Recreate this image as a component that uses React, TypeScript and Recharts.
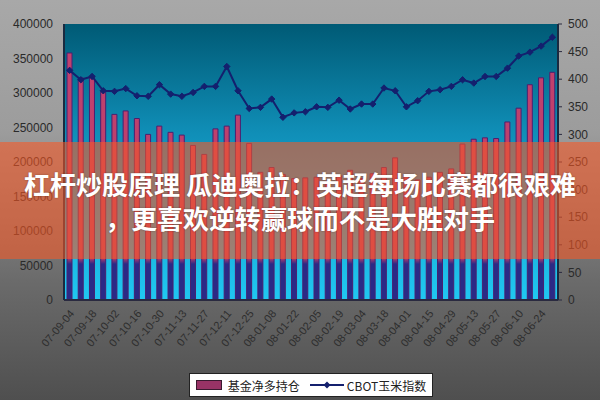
import React from 'react'
import { ComposedChart, Bar, Line, XAxis, YAxis, CartesianGrid, Legend } from 'recharts'

const dates = [
  '07-09-04', '07-09-11', '07-09-18', '07-09-25', '07-10-02', '07-10-09', '07-10-16', '07-10-23',
  '07-10-30', '07-11-06', '07-11-13', '07-11-20', '07-11-27', '07-12-04', '07-12-11', '07-12-18',
  '07-12-25', '08-01-01', '08-01-08', '08-01-15', '08-01-22', '08-01-29', '08-02-05', '08-02-12',
  '08-02-19', '08-02-26', '08-03-04', '08-03-11', '08-03-18', '08-03-25', '08-04-01', '08-04-08',
  '08-04-15', '08-04-22', '08-04-29', '08-05-06', '08-05-13', '08-05-20', '08-05-27', '08-06-03',
  '08-06-10', '08-06-17', '08-06-24', '08-07-01',
]

// 基金净多持仓 (left axis)
const fundNetLong = [
  358000, 322000, 323000, 302000, 269000, 274000, 263000, 240000, 252000, 243000, 239000,
  224000, 211000, 248000, 252000, 268000, 227000, 185000, 192000, 182000, 176000, 177000,
  178000, 172000, 180000, 188000, 176000, 183000, 192000, 206000, 180000, 174000, 178000,
  185000, 190000, 226000, 233000, 235000, 234000, 258000, 278000, 312000, 322000, 330000,
]

// CBOT玉米指数 (right axis)
const cornIndex = [
  416, 399, 405, 379, 378, 383, 370, 369, 390, 373, 369, 376, 387, 387, 423, 379, 347, 349,
  364, 331, 339, 341, 350, 349, 362, 346, 355, 355, 384, 379, 350, 361, 378, 381, 387, 399,
  393, 405, 405, 420, 442, 449, 460, 476,
]

const leftTicks = [0, 50000, 100000, 150000, 200000, 250000, 300000, 350000, 400000]
const rightTicks = [0, 50, 100, 150, 200, 250, 300, 350, 400, 450, 500]

const headline = ['杠杆炒股原理 瓜迪奥拉：英超每场比赛都很艰难', '，更喜欢逆转赢球而不是大胜对手']

const data = dates.map((d, i) => ({ date: d, net: fundNetLong[i], corn: cornIndex[i] }))

const cjk = '"Noto Sans CJK SC", "Liberation Sans", sans-serif'

function Diamond(props: any) {
  const { cx, cy } = props
  if (cx == null || cy == null) return null
  const r = 3.2
  return (
    <path
      d={`M${cx},${cy - r} L${cx + r},${cy} L${cx},${cy + r} L${cx - r},${cy} Z`}
      fill="#14206e"
      stroke="#14206e"
    />
  )
}

function DateTick(props: any) {
  const { x, y, payload } = props
  return (
    <text
      x={x + 3}
      y={y + 4}
      transform={`rotate(-50, ${x + 3}, ${y + 4})`}
      textAnchor="end"
      dominantBaseline="middle"
      fontSize={11}
      fill="#2e2e2e"
      fontFamily='"Liberation Sans", sans-serif'
    >
      {payload.value}
    </text>
  )
}

function LegendBox() {
  return (
    <div style={{ display: 'flex', justifyContent: 'center' }}>
      <div
        style={{
          position: 'relative',
          left: 7,
          display: 'flex',
          alignItems: 'center',
          background: '#ffffff',
          border: '1px solid #222',
          height: 22,
          padding: '0 6px',
          fontFamily: cjk,
          fontSize: 12,
          color: '#222',
        }}
      >
        <span
          style={{
            display: 'inline-block',
            width: 24,
            height: 8,
            background: '#993366',
            border: '1px solid #3a1a30',
            marginRight: 6,
          }}
        />
        <span style={{ marginRight: 10 }}>基金净多持仓</span>
        <svg width={34} height={10} style={{ marginRight: 3 }}>
          <line x1={0} y1={5} x2={34} y2={5} stroke="#14206e" strokeWidth={2} />
          <path d="M17,1.5 L20.5,5 L17,8.5 L13.5,5 Z" fill="#14206e" />
        </svg>
        <span>CBOT玉米指数</span>
      </div>
    </div>
  )
}

export default function App() {
  return (
    <div
      style={{
        position: 'fixed',
        left: 0,
        top: 0,
        width: 600,
        height: 400,
        background: 'linear-gradient(#a8a8a8 0%, #9c9c9c 33%, #6b6b6b 70%, #4f4f4f 100%)',
        overflow: 'hidden',
      }}
    >
      <ComposedChart
        width={600}
        height={400}
        data={data}
        margin={{ top: 24, right: 0, left: 8, bottom: 3 }}
      >
        <defs>
          <linearGradient id="plotGrad" x1="0" y1="0" x2="0" y2="1">
            <stop offset="0%" stopColor="#005a75" />
            <stop offset="40%" stopColor="#108fb8" />
            <stop offset="100%" stopColor="#20c8f2" />
          </linearGradient>
          <linearGradient id="barGrad" gradientUnits="userSpaceOnUse" x1="0" y1="0" x2="0" y2="400">
            <stop offset="0%" stopColor="#c4426e" />
            <stop offset="64.5%" stopColor="#b83e6c" />
            <stop offset="66%" stopColor="#2a2a86" />
            <stop offset="100%" stopColor="#2a2a86" />
          </linearGradient>
        </defs>
        <CartesianGrid horizontal={false} vertical={false} fill="url(#plotGrad)" stroke="none" />
        <XAxis
          dataKey="date"
          interval={1}
          height={73}
          tick={<DateTick />}
          tickLine={false}
          axisLine={{ stroke: '#2a2a40', strokeWidth: 2 }}
        />
        <YAxis
          yAxisId="left"
          orientation="left"
          width={56}
          domain={[0, 400000]}
          ticks={leftTicks}
          interval={0}
          tickLine={false}
          tickMargin={5}
          axisLine={{ stroke: '#1a2a40', strokeWidth: 2 }}
          tick={{ fontSize: 12, fill: '#2a2a2a', fontFamily: '"Liberation Sans", sans-serif' }}
        />
        <YAxis
          yAxisId="right"
          orientation="right"
          width={42}
          domain={[0, 500]}
          ticks={rightTicks}
          interval={0}
          tickSize={4}
          tickMargin={6}
          tickLine={{ stroke: '#2a2a40' }}
          axisLine={{ stroke: '#1a2a40', strokeWidth: 2 }}
          tick={{ fontSize: 12, fill: '#2a2a2a', fontFamily: '"Liberation Sans", sans-serif' }}
        />
        <Legend verticalAlign="bottom" content={<LegendBox />} />
        <Bar
          yAxisId="left"
          dataKey="net"
          name="基金净多持仓"
          barSize={5}
          fill="url(#barGrad)"
          stroke="#4a2070"
          strokeWidth={1}
          isAnimationActive={false}
        />
        <Line
          yAxisId="right"
          dataKey="corn"
          name="CBOT玉米指数"
          type="linear"
          stroke="#14206e"
          strokeWidth={2}
          dot={<Diamond />}
          activeDot={false}
          isAnimationActive={false}
        />
      </ComposedChart>
      <div
        style={{
          position: 'absolute',
          left: 0,
          top: 142,
          width: 600,
          height: 117,
          background: 'rgba(250, 88, 36, 0.58)',
          display: 'flex',
          flexDirection: 'column',
          alignItems: 'center',
          justifyContent: 'center',
          color: '#ffffff',
          fontFamily: cjk,
          fontWeight: 700,
          fontSize: 26,
          lineHeight: '34px',
          textShadow: '0 0 2px rgba(0,0,0,0.35)',
          whiteSpace: 'nowrap',
        }}
      >
        {headline.map((line) => (
          <div key={line}>{line}</div>
        ))}
      </div>
    </div>
  )
}
